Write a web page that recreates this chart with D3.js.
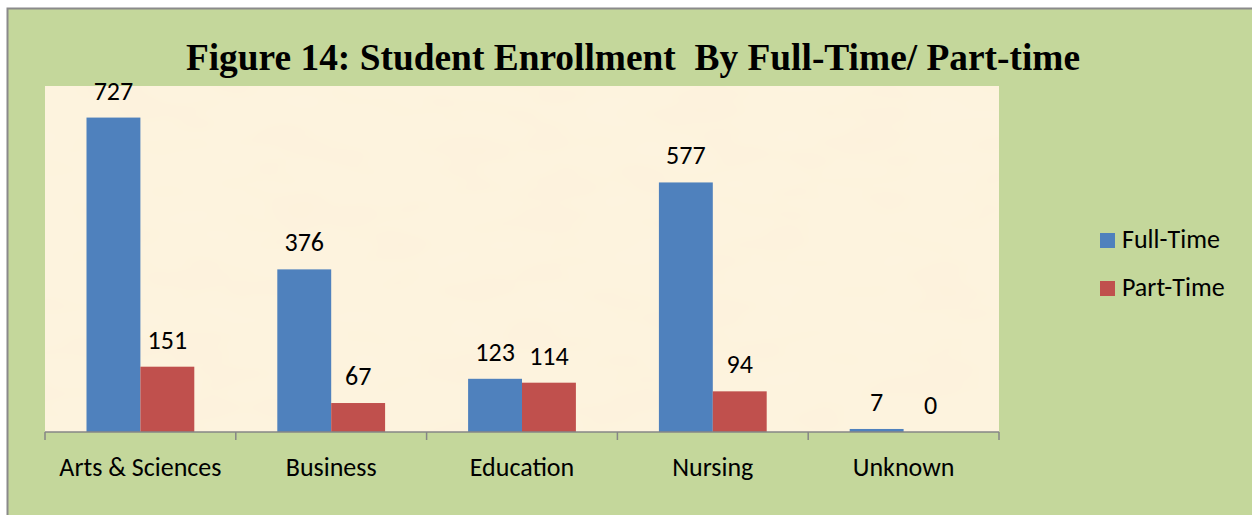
<!DOCTYPE html>
<html>
<head>
<meta charset="utf-8">
<script src="https://cdn.jsdelivr.net/npm/d3@7"></script>
<style>
  body { margin: 0; background: #fff; }
  text { font-family: Carlito, Calibri, "Open Sans", sans-serif; }
</style>
</head>
<body>
<script>
// chart data
const categories = ["Arts & Sciences", "Business", "Education", "Nursing", "Unknown"];
const seriesNames = ["Full-Time", "Part-Time"];
const fullTime = [727, 376, 123, 577, 7];
const partTime = [151, 67, 114, 94, 0];
const yMax = 800;

const colors = { "Full-Time": "#4F81BD", "Part-Time": "#C0504D" };

const W = 1252, H = 515;
const plot = { left: 45, right: 999, top: 86, bottom: 432 };

const svg = d3.select("body").append("svg")
    .attr("width", W)
    .attr("height", H);

// frame
svg.append("rect")
    .attr("x", 7.5).attr("y", 8.5)
    .attr("width", W - 6).attr("height", H)
    .attr("fill", "#C4D79B")
    .attr("stroke", "#8a8a8a")
    .attr("stroke-width", 2);

// plot area with a soft parchment look
const defs = svg.append("defs");
const filt = defs.append("filter").attr("id", "paper")
    .attr("x", 0).attr("y", 0).attr("width", "100%").attr("height", "100%");
filt.append("feTurbulence")
    .attr("type", "fractalNoise").attr("baseFrequency", "0.012 0.03")
    .attr("numOctaves", 2).attr("seed", 4).attr("result", "noise");
filt.append("feColorMatrix").attr("in", "noise").attr("type", "matrix")
    .attr("values", "0 0 0 0 0.99  0 0 0 0 0.93  0 0 0 0 0.80  0 0 0 0.35 0")
    .attr("result", "tint");
filt.append("feFlood").attr("flood-color", "#FDF2DC").attr("result", "base");
filt.append("feMerge").call(m => {
    m.append("feMergeNode").attr("in", "base");
    m.append("feMergeNode").attr("in", "tint");
});

svg.append("rect")
    .attr("x", plot.left).attr("y", plot.top)
    .attr("width", plot.right - plot.left).attr("height", plot.bottom - plot.top)
    .attr("fill", "#FDF2DC")
    .attr("filter", "url(#paper)");

// title
svg.append("text")
    .attr("x", 633).attr("y", 70)
    .attr("text-anchor", "middle")
    .style("font-family", "'Liberation Serif', 'Times New Roman', serif")
    .style("font-weight", "bold")
    .style("font-size", "37.4px")
    .attr("xml:space", "preserve")
    .text("Figure 14: Student Enrollment  By Full-Time/ Part-time");

// scales
const x = d3.scaleBand()
    .domain(categories)
    .range([plot.left, plot.right])
    .paddingInner(0).paddingOuter(0);

const xInner = d3.scaleBand()
    .domain(seriesNames)
    .range([0, x.bandwidth()])
    .paddingOuter(0.77).paddingInner(0);

const y = d3.scaleLinear()
    .domain([0, yMax])
    .range([plot.bottom, plot.top]);

const rows = categories.map((c, i) => ({
    cat: c,
    values: [
        { key: "Full-Time", value: fullTime[i] },
        { key: "Part-Time", value: partTime[i] }
    ]
}));

const groups = svg.append("g").selectAll("g")
    .data(rows)
    .join("g")
    .attr("transform", d => `translate(${x(d.cat)},0)`);

groups.selectAll("rect")
    .data(d => d.values)
    .join("rect")
    .attr("x", d => xInner(d.key))
    .attr("width", xInner.bandwidth())
    .attr("y", d => y(d.value))
    .attr("height", d => plot.bottom - y(d.value))
    .attr("fill", d => colors[d.key]);

groups.selectAll("text.val")
    .data(d => d.values)
    .join("text")
    .attr("class", "val")
    .attr("x", d => xInner(d.key) + xInner.bandwidth() / 2)
    .attr("y", d => y(d.value) - 18)
    .attr("text-anchor", "middle")
    .style("font-size", "26px")
    .attr("fill", "#000")
    .text(d => d.value);

// x axis
const xAxis = svg.append("g")
    .attr("transform", `translate(0,${plot.bottom})`);
xAxis.append("line")
    .attr("x1", plot.left).attr("x2", plot.right)
    .attr("stroke", "#868686").attr("stroke-width", 1.5);
const tickPos = categories.map(c => x(c)).concat([plot.right]);
xAxis.selectAll("line.tick")
    .data(tickPos)
    .join("line")
    .attr("class", "tick")
    .attr("x1", d => d).attr("x2", d => d)
    .attr("y1", 0).attr("y2", 8)
    .attr("stroke", "#868686").attr("stroke-width", 1.5);
xAxis.selectAll("text")
    .data(categories)
    .join("text")
    .attr("x", d => x(d) + x.bandwidth() / 2)
    .attr("y", 44)
    .attr("text-anchor", "middle")
    .style("font-size", "26px")
    .attr("fill", "#000")
    .text(d => d);

// legend
const legend = svg.append("g")
    .attr("transform", "translate(1100,233)");
const li = legend.selectAll("g")
    .data(seriesNames)
    .join("g")
    .attr("transform", (d, i) => `translate(0,${i * 48})`);
li.append("rect")
    .attr("width", 15).attr("height", 15)
    .attr("fill", d => colors[d]);
li.append("text")
    .attr("x", 22).attr("y", 15)
    .style("font-size", "26px")
    .attr("fill", "#000")
    .text(d => d);
</script>
</body>
</html>
